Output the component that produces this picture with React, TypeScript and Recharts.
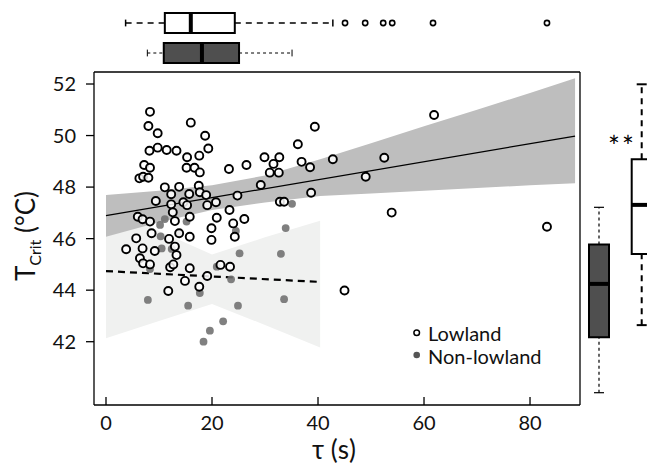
import React from 'react';
import {
    ComposedChart,
    Area,
    Line,
    Scatter,
    XAxis,
    YAxis,
    ReferenceArea,
    ReferenceLine,
    ReferenceDot,
} from 'recharts';

// Lowland points (tau in s, Tcrit in °C)
const lowlandTau = [
    8.3, 8.0, 9.75, 16.0, 18.7, 19.3, 17.6, 15.3, 9.75, 11.45, 13.3, 8.2, 7.2, 8.3, 6.3, 7.0, 8.0,
    15.2, 16.7, 17.7, 23.2, 11.1, 13.8, 17.5, 17.7, 12.3, 15.7, 18.9, 9.4, 20.75, 12.3, 14.6, 15.3,
    19.1, 24.8, 12.6, 23.3, 6.0, 6.9, 8.3, 20.9, 13.0, 15.8, 8.6, 5.7, 3.8, 6.9, 9.2, 11.9, 13.8,
    13.0, 13.3, 15.8, 19.9, 19.9, 24.0, 24.3, 6.4, 7.0, 8.3, 12.1, 12.7, 15.8, 14.9, 17.6, 11.75,
    19.1, 21.6, 23.4, 39.4, 36.2, 29.9, 32.7, 31.6, 26.5, 36.9, 38.5, 42.8, 30.9, 32.6, 29.2, 38.7,
    32.8, 33.6, 26.1, 61.9, 52.5, 49.0, 53.9, 83.2, 45.0,
];
const lowlandTcrit = [
    50.92, 50.37, 50.09, 50.5, 49.99, 49.5, 49.22, 49.16, 49.53, 49.44, 49.41, 49.41, 48.86, 48.75,
    48.34, 48.4, 48.36, 48.75, 48.75, 48.57, 48.7, 47.99, 48.01, 48.05, 47.8, 47.72, 47.73, 47.69,
    47.46, 47.41, 47.33, 47.41, 47.3, 47.3, 47.67, 47.02, 47.11, 46.85, 46.75, 46.66, 46.81, 46.68,
    46.85, 46.21, 46.01, 45.59, 45.62, 45.52, 45.99, 46.21, 45.69, 45.36, 46.07, 46.4, 45.95, 46.59,
    46.07, 45.24, 45.04, 45.0, 44.89, 45.0, 44.85, 44.36, 44.13, 43.97, 44.55, 44.98, 44.91, 50.34,
    49.66, 49.16, 49.16, 48.9, 48.86, 48.98, 48.77, 49.08, 48.56, 48.56, 48.08, 47.78, 47.43, 47.43,
    46.76, 50.8, 49.14, 48.4, 47.01, 46.46, 43.99,
];

// Non-lowland points
const nonLowlandTau = [
    10.2, 11.1, 15.2, 10.3, 13.8, 12.4, 10.5, 8.3, 7.9, 15.5, 17.7, 20.9, 23.6, 24.5, 25.2, 24.9,
    22.1, 19.6, 18.4, 33.0, 33.9, 33.6, 35.1,
];
const nonLowlandTcrit = [
    46.53, 46.76, 46.66, 46.09, 46.22, 45.6, 45.62, 44.82, 43.62, 43.4, 43.89, 44.91, 44.42, 46.3,
    45.43, 43.4, 42.79, 42.43, 42.0, 45.41, 46.41, 43.65, 47.35,
];

// Confidence bands of the fits
const bandTau = [0, 10, 20, 30, 40.4, 50, 60, 70, 80, 88.5];
const lowlandUpper = [47.69, 47.86, 48.07, 48.45, 49.08, 49.7, 50.36, 51.0, 51.65, 52.22];
const lowlandLower = [46.07, 46.64, 47.11, 47.4, 47.65, 47.75, 47.86, 47.96, 48.07, 48.15];
const nonLowlandUpper = [47.2, 46.3, 45.38, 46.05, 46.69];
const nonLowlandLower = [42.13, 42.8, 43.46, 42.65, 41.78];

// Fitted lines (end points)
const lowlandFitTau = [0, 88.5];
const lowlandFitTcrit = [46.89, 49.98];
const nonLowlandFitTau = [0, 40.4];
const nonLowlandFitTcrit = [44.74, 44.32];

const tauTicks = [0, 20, 40, 60, 80];
const tcritTicks = [42, 44, 46, 48, 50, 52];

// Boxplot stats: [lower whisker, Q1, median, Q3, upper whisker]
const tauBoxLowland = [3.7, 11.1, 16.0, 24.3, 42.8];
const tauOutliersLowland = [45.1, 48.9, 52.3, 54.0, 61.7, 83.2];
const tauBoxNonLowland = [7.8, 10.9, 18.1, 25.1, 35.1];
const tcritBoxLowland = [43.95, 46.0, 47.42, 48.74, 50.9];
const tcritBoxNonLowland = [42.0, 43.6, 45.14, 46.28, 47.35];

const X_DOMAIN: [number, number] = [-2.264, 89.43];
const Y_DOMAIN: [number, number] = [39.544, 52.466];
const RIGHT_Y_DOMAIN: [number, number] = [41.645, 51.255];

const DARK = '#4f4f4f';

const bandData = bandTau.map((t, i) => {
    const lf = lowlandFitTau.indexOf(t);
    const nf = nonLowlandFitTau.indexOf(t);
    return {
        tau: t,
        lowBand: [lowlandLower[i], lowlandUpper[i]],
        nonBand: i < nonLowlandUpper.length ? [nonLowlandLower[i], nonLowlandUpper[i]] : undefined,
        lowFit: lf >= 0 ? lowlandFitTcrit[lf] : undefined,
        nonFit: nf >= 0 ? nonLowlandFitTcrit[nf] : undefined,
    };
});

const lowlandData = lowlandTau.map((t, i) => ({ tau: t, tcrit: lowlandTcrit[i] }));
const nonLowlandData = nonLowlandTau.map((t, i) => ({ tau: t, tcrit: nonLowlandTcrit[i] }));

// the box charts need some rows so their scales get built
const topBoxData = tauBoxLowland.map((v) => ({ v, level: 2.5 }));
const rightBoxData = tcritBoxLowland.map((v) => ({ pos: 50, v }));

const OpenDot = (p: any) => (
    <circle cx={p.cx} cy={p.cy} r={4} fill="#fff" fillOpacity={0.85} stroke="#000" strokeWidth={1.9} />
);
const GrayDot = (p: any) => <circle cx={p.cx} cy={p.cy} r={3.9} fill="#6e6e6e" fillOpacity={0.88} />;
const NoDot = () => null;

const XTick = (props: any) => {
    const { x, y, payload } = props;
    return (
        <g>
            <line x1={x} x2={x} y1={y - 8} y2={y} stroke="#000" strokeWidth={1.3} />
            <text x={x} y={y + 25} textAnchor="middle" fontSize={20} fill="#111">
                {payload.value}
            </text>
        </g>
    );
};

// horizontal boxplot (top margin)
function hBox(s: number[], level: number, fill: string, lw: number, dash: string, key: string) {
    const h = 0.5;
    const cap = 0.17;
    return [
        <ReferenceLine key={key + 'w1'} segment={[{ x: s[0], y: level }, { x: s[1], y: level }]} stroke="#000" strokeWidth={lw} strokeDasharray={dash} ifOverflow="visible" />,
        <ReferenceLine key={key + 'w2'} segment={[{ x: s[3], y: level }, { x: s[4], y: level }]} stroke="#000" strokeWidth={lw} strokeDasharray={dash} ifOverflow="visible" />,
        <ReferenceLine key={key + 'c1'} segment={[{ x: s[0], y: level - cap }, { x: s[0], y: level + cap }]} stroke="#000" strokeWidth={lw} ifOverflow="visible" />,
        <ReferenceLine key={key + 'c2'} segment={[{ x: s[4], y: level - cap }, { x: s[4], y: level + cap }]} stroke="#000" strokeWidth={lw} ifOverflow="visible" />,
        <ReferenceArea key={key + 'b'} x1={s[1]} x2={s[3]} y1={level - h} y2={level + h} fill={fill} fillOpacity={1} stroke="#000" strokeWidth={2} ifOverflow="visible" />,
        <ReferenceLine key={key + 'm'} segment={[{ x: s[2], y: level - h }, { x: s[2], y: level + h }]} stroke="#000" strokeWidth={4} ifOverflow="visible" />,
    ];
}

// vertical boxplot (right margin)
function vBox(s: number[], pos: number, fill: string, lw: number, dash: string, key: string) {
    const w = 10;
    const cap = 5;
    return [
        <ReferenceLine key={key + 'w1'} segment={[{ x: pos, y: s[0] }, { x: pos, y: s[1] }]} stroke="#000" strokeWidth={lw} strokeDasharray={dash} ifOverflow="visible" />,
        <ReferenceLine key={key + 'w2'} segment={[{ x: pos, y: s[3] }, { x: pos, y: s[4] }]} stroke="#000" strokeWidth={lw} strokeDasharray={dash} ifOverflow="visible" />,
        <ReferenceLine key={key + 'c1'} segment={[{ x: pos - cap, y: s[0] }, { x: pos + cap, y: s[0] }]} stroke="#000" strokeWidth={lw} ifOverflow="visible" />,
        <ReferenceLine key={key + 'c2'} segment={[{ x: pos - cap, y: s[4] }, { x: pos + cap, y: s[4] }]} stroke="#000" strokeWidth={lw} ifOverflow="visible" />,
        <ReferenceArea key={key + 'b'} x1={pos - w} x2={pos + w} y1={s[1]} y2={s[3]} fill={fill} fillOpacity={1} stroke="#000" strokeWidth={2} ifOverflow="visible" />,
        <ReferenceLine key={key + 'm'} segment={[{ x: pos - w, y: s[2] }, { x: pos + w, y: s[2] }]} stroke="#000" strokeWidth={4} ifOverflow="visible" />,
    ];
}

export default function App() {
    return (
        <div style={{ position: 'fixed', left: 0, top: 0, width: 647, height: 468, overflow: 'hidden', background: '#fff', fontFamily: 'Lato, sans-serif' }}>
            {/* main scatter */}
            <div style={{ position: 'absolute', left: 0, top: 0 }}>
                <ComposedChart width={647} height={468} data={bandData} margin={{ top: 71, right: 66, bottom: 23, left: 34 }}>
                    <XAxis
                        dataKey="tau"
                        type="number"
                        domain={X_DOMAIN}
                        allowDataOverflow
                        ticks={tauTicks}
                        height={40}
                        tickSize={0}
                        tickMargin={0}
                        tickLine={false}
                        tick={<XTick />}
                        axisLine={{ stroke: '#000', strokeWidth: 1.3 }}
                    />
                    <XAxis xAxisId="top" orientation="top" type="number" domain={X_DOMAIN} allowDataOverflow height={1} tick={false} tickLine={false} axisLine={{ stroke: '#000', strokeWidth: 1.3 }} />
                    <YAxis
                        type="number"
                        domain={Y_DOMAIN}
                        allowDataOverflow
                        ticks={tcritTicks}
                        width={60}
                        tickSize={8}
                        tickMargin={10}
                        tick={{ fontSize: 20, fill: '#111' }}
                        tickLine={{ stroke: '#000', strokeWidth: 1.3 }}
                        axisLine={{ stroke: '#000', strokeWidth: 1.3 }}
                    />
                    <YAxis yAxisId="r" orientation="right" type="number" domain={Y_DOMAIN} width={1} tick={false} tickLine={false} axisLine={{ stroke: '#000', strokeWidth: 1.3 }} />
                    <Area type="linear" dataKey="nonBand" stroke="none" fill="#f0f1f0" fillOpacity={1} isAnimationActive={false} dot={false} activeDot={false} />
                    <Area type="linear" dataKey="lowBand" stroke="none" fill="#bebebe" fillOpacity={1} isAnimationActive={false} dot={false} activeDot={false} />
                    <Line type="linear" dataKey="lowFit" stroke="#000" strokeWidth={1.2} dot={false} activeDot={false} connectNulls isAnimationActive={false} />
                    <Line type="linear" dataKey="nonFit" stroke="#000" strokeWidth={2.2} strokeDasharray="7 5" dot={false} activeDot={false} connectNulls isAnimationActive={false} />
                    <Scatter data={nonLowlandData} dataKey="tcrit" shape={GrayDot} isAnimationActive={false} />
                    <Scatter data={lowlandData} dataKey="tcrit" shape={OpenDot} isAnimationActive={false} />
                </ComposedChart>
            </div>

            {/* top boxplots of tau */}
            <div style={{ position: 'absolute', left: 0, top: 0 }}>
                <ComposedChart width={647} height={72} data={topBoxData} margin={{ top: 0, right: 67, bottom: 0, left: 94 }}>
                    <XAxis dataKey="v" type="number" domain={X_DOMAIN} allowDataOverflow hide />
                    <YAxis type="number" domain={[0.05, 3.65]} allowDataOverflow hide />
                    <Scatter dataKey="level" shape={NoDot} isAnimationActive={false} />
                    {hBox(tauBoxLowland, 2.5, '#fff', 1.5, '6 5', 'tl')}
                    {hBox(tauBoxNonLowland, 1, DARK, 1, '3 3', 'tn')}
                    {tauOutliersLowland.map((v, i) => (
                        <ReferenceDot key={'o' + i} x={v} y={2.5} r={2.6} fill="#fff" stroke="#000" strokeWidth={1.6} ifOverflow="visible" />
                    ))}
                </ComposedChart>
            </div>

            {/* right boxplots of Tcrit */}
            <div style={{ position: 'absolute', left: 580, top: 0 }}>
                <ComposedChart width={100} height={468} data={rightBoxData} margin={{ top: 72, right: 0, bottom: 63, left: 0 }}>
                    <XAxis dataKey="pos" type="number" domain={[0, 100]} allowDataOverflow hide />
                    <YAxis type="number" domain={RIGHT_Y_DOMAIN} allowDataOverflow hide />
                    <Scatter dataKey="v" shape={NoDot} isAnimationActive={false} />
                    {vBox(tcritBoxLowland, 61.7, '#fff', 2, '6 5', 'rl')}
                    {vBox(tcritBoxNonLowland, 19, DARK, 1.2, '3 3', 'rn')}
                </ComposedChart>
            </div>

            {/* titles, legend, significance */}
            <svg width={647} height={468} style={{ position: 'absolute', left: 0, top: 0, pointerEvents: 'none' }}>
                <text transform="translate(35,236) rotate(-90)" textAnchor="middle" fontSize={26} fill="#111">
                    T<tspan fontSize={16} dy={6}>Crit</tspan>
                    <tspan dy={-6}> (°C)</tspan>
                </text>
                <text x={334} y={459} textAnchor="middle" fontSize={26} fill="#111">τ (s)</text>
                <circle cx={416.7} cy={332.7} r={2.8} fill="#fff" stroke="#000" strokeWidth={1.5} />
                <text x={428} y={341} fontSize={20} fill="#111">Lowland</text>
                <circle cx={416.7} cy={355} r={3.3} fill="#555" />
                <text x={428} y={363.5} fontSize={20} fill="#111">Non-lowland</text>
                <text x={622} y={157} textAnchor="middle" fontSize={28} fill="#000" letterSpacing={2}>**</text>
            </svg>
        </div>
    );
}
